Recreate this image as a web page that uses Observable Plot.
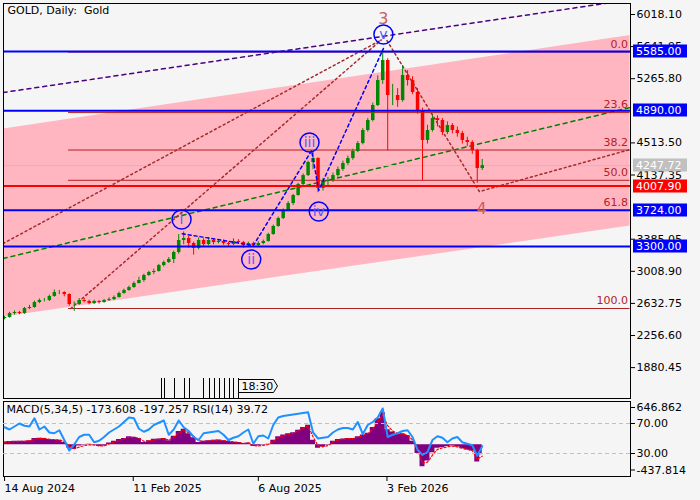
<!DOCTYPE html>
<html><head><meta charset="utf-8">
<script src="https://cdn.jsdelivr.net/npm/d3@7"></script>
<script src="https://cdn.jsdelivr.net/npm/@observablehq/plot@0.6"></script>
<style>
html,body{margin:0;padding:0;background:#f5f5f5;}
#wrap{position:relative;width:700px;height:500px;background:#f5f5f5;overflow:hidden;}
#wrap svg{position:absolute;left:0;}
</style></head><body><div id="wrap"></div>
<script>
// ---------- data ----------
const firstOpen = 2455;
const closes = [2468,2514,2526,2514,2573,2585,2643,2667,2667,2714,
2760,2760,2737,2620,2620,2667,2655,2631,2655,2643,
2667,2678,2702,2749,2784,2819,2866,2901,2960,2995,
3007,3077,3112,3147,3229,3370,3393,3335,3276,3370,
3323,3370,3346,3358,3335,3323,3358,3346,3311,3335,
3311,3335,3358,3440,3534,3628,3721,3803,3897,4026,
4131,4284,4331,3979,4061,4073,4131,4202,4272,4331,
4413,4506,4659,4776,4952,5245,5479,5069,5069,5010,
5303,5245,5104,4893,4542,4659,4799,4776,4635,4717,
4659,4624,4542,4518,4424,4213,4248];
const highs = [2480,2530,2545,2540,2585,2610,2660,2685,2690,2730,
2790,2785,2770,2745,2650,2690,2690,2670,2670,2665,
2680,2700,2720,2765,2800,2835,2885,2940,2975,3010,
3035,3090,3130,3170,3245,3440,3470,3420,3350,3400,
3390,3400,3390,3380,3375,3350,3390,3380,3360,3350,
3350,3355,3375,3455,3550,3645,3740,3825,3910,4040,
4150,4300,4400,4340,4100,4110,4160,4230,4300,4360,
4440,4530,4680,4800,4980,5300,5600,5500,5200,5150,
5420,5360,5290,5150,4920,4720,4840,4830,4800,4760,
4740,4700,4650,4580,4540,4440,4320];
const lows = [2440,2460,2495,2500,2505,2560,2575,2630,2650,2655,
2705,2735,2710,2600,2540,2610,2640,2615,2620,2625,
2635,2655,2665,2695,2740,2775,2810,2860,2880,2950,
2970,3000,3060,3100,3100,3210,3320,3280,3200,3260,
3300,3310,3320,3330,3315,3300,3310,3325,3280,3295,
3290,3300,3320,3350,3430,3525,3615,3710,3780,3890,
4010,4120,4200,3930,3950,4000,4050,4110,4180,4250,
4310,4400,4490,4640,4760,4940,5200,4420,4950,4930,
4990,5180,5080,4850,4073,4500,4640,4700,4600,4610,
4620,4580,4500,4470,4380,4040,4190];
const rsiValues = [65,62,66,70,67,66,77,62,66,58,
57,61,48,34,42,52,55,55,45,47,
52,58,62,66,72,78,77,63,59,62,
68,71,74,55,62,74,65,60,52,48,
57,58,59,60,55,48,51,53,58,62,
43,53,54,50,68,78,80,81,82,83,
84,85,58,50,51,52,58,62,64,64,
62,72,56,68,72,78,90,52,55,57,
60,61,52,35,28,32,48,53,51,45,
50,52,45,43,41,27,39.72];
const macdHist = [50,55,60,60,62,70,110,115,110,90,
85,80,40,-60,-80,-20,-10,10,-10,-30,
-20,30,60,90,110,140,130,110,40,70,
95,100,110,70,150,230,270,190,120,40,
60,70,80,85,70,60,45,40,20,30,
-30,-20,-10,10,80,140,170,190,210,250,
300,340,80,-60,-40,-10,60,90,100,110,
110,140,170,200,300,450,560,260,220,180,
190,160,60,-150,-380,-280,-140,-60,-50,-30,
-20,-40,-70,-90,-110,-300,-173.608];
const macdSignal = [45,50,55,58,60,65,95,110,110,95,
88,82,55,-20,-70,-40,-15,0,-5,-20,
-20,15,45,75,100,125,130,115,60,65,
85,95,105,80,130,200,250,210,150,70,
60,65,75,80,72,63,50,42,25,28,
-15,-20,-12,5,60,120,155,180,200,240,
285,325,140,-20,-35,-15,45,80,95,105,
108,130,160,190,270,400,520,330,240,195,
185,165,85,-90,-320,-300,-180,-80,-55,-35,
-25,-35,-60,-80,-100,-250,-197.257];

// right-axis tick labels that the reference shows (partly hidden ones included)
const priceTicks = [1880.45,2256.60,2632.75,3008.90,3385.05,4137.35,4513.50,5265.80,5641.95,6018.10];
const dateTicks = ["2024-08-14","2025-02-11","2025-08-06","2026-02-03"];
const macdTicks = [646.862,-437.814];
const rsiTicks = [70,30];

const levelValues = [5585.00,4890.00,4007.90,3724.00,3300.00];
const levelKinds = ["blue","blue","red","blue","blue"];
const currentPrice = 4247.72;

const fibRatios = [0,23.6,38.2,50.0,61.8,100.0];
const fibHigh = 5578, fibLow = 2573;
const fibStart = "2024-11-12", fibEnd = "2027-01-11";

const channelDates = ["2024-08-12","2027-01-11"];
const channelUpper = [4675,5771];
const channelLower = [2472,3539];

const purpleDates = ["2024-08-12","2027-01-11"], purplePrices = [5104,6191];
const greenDates = ["2024-08-12","2027-01-11"], greenPrices = [3159,4928];
const brownA_dates = ["2024-08-12","2026-01-26"], brownA_prices = [3335,5720];
const brownB_dates = ["2024-11-15","2026-01-26"], brownB_prices = [2573,5720];
const brownC_dates = ["2026-02-03","2026-06-13","2027-01-11"], brownC_prices = [5713,3944,4436];

const waveDates = ["2025-04-21","2025-07-30","2025-10-20","2025-10-30","2026-01-29"];
const wavePrices = [3450,3311,4424,3956,5620];
const waveNames = ["i","ii","iii","iv","v"];
const waveLabelDates = ["2025-04-20","2025-07-27","2025-10-17","2025-10-30","2026-01-29"];
const waveLabelPrices = [3616,3147,4518,3710,5784];
const bigWaveNames = ["3","4"];
const bigWaveDates = ["2026-01-29","2026-06-16"];
const bigWavePrices = [5971,3745];

const eventDates = ["2025-03-23","2025-03-27","2025-04-10","2025-04-24","2025-05-01","2025-05-21","2025-05-29","2025-06-05","2025-06-12","2025-06-19","2025-06-26","2025-07-02","2025-07-09"];
const eventLabel = "18:30";

const titleText = "GOLD, Daily:\u00a0 Gold";
const macdText = "MACD(5,34,5) -173.608 -197.257 RSI(14) 39.72";

// ---------- build ----------
const D = s => new Date(s + "T00:00:00Z");
const firstBar = Date.UTC(2024,7,14);
const barDates = closes.map((_, i) => new Date(firstBar + i * 7 * 864e5));
const candles = closes.map((c, i) => ({date: barDates[i], open: i === 0 ? firstOpen : closes[i-1], close: c, high: highs[i], low: lows[i]}));
const indic = closes.map((_, i) => ({date: barDates[i], hist: macdHist[i], signal: macdSignal[i], rsi: rsiValues[i]}));
const channel = channelDates.map((d, i) => ({date: D(d), upper: channelUpper[i], lower: channelLower[i]}));
const mkLine = (ds, ps) => ds.map((d, i) => ({date: D(d), price: ps[i]}));
const fib = fibRatios.map(r => ({label: r.toFixed(1), price: fibHigh - (fibHigh - fibLow) * r / 100, start: D(fibStart), end: D(fibEnd)}));
const levelColor = {blue: "#0000ff", red: "#ff0000"};
const levels = levelValues.map((v, i) => ({value: v, color: levelColor[levelKinds[i]]}));
const waves = mkLine(waveDates, wavePrices);
const waveLabels = waveLabelDates.map((d, i) => ({date: D(d), price: waveLabelPrices[i], name: waveNames[i]}));
const bigLabels = bigWaveDates.map((d, i) => ({date: D(d), price: bigWavePrices[i], name: bigWaveNames[i]}));

const xDomain = [new Date(Date.UTC(2024,7,12,12)), new Date(Date.UTC(2027,0,11,14,24))];
const FONT = "DejaVu Sans";
const baseStyle = {background: "transparent", fontFamily: FONT, fontSize: "11px", color: "black", overflow: "visible"};
const brown = "#a52a2a";

const main = Plot.plot({
  width: 700, height: 400, marginLeft: 3, marginRight: 70, marginTop: 3, marginBottom: 2,
  x: {type: "utc", domain: xDomain, axis: null},
  y: {domain: [1518.5, 6147.0], axis: null},
  style: baseStyle,
  marks: [
    Plot.areaY(channel, {x: "date", y1: "lower", y2: "upper", fill: "#ffb6c1", clip: true}),
    Plot.line(mkLine(greenDates, greenPrices), {x: "date", y: "price", stroke: "#008000", strokeDasharray: "4,4", clip: true}),
    Plot.line(mkLine(purpleDates, purplePrices), {x: "date", y: "price", stroke: "#4b0082", strokeWidth: 1.5, strokeDasharray: "4,4", clip: true}),
    Plot.ruleY([currentPrice], {stroke: "#c0c0c0"}),
    Plot.ruleY(fib, {y: "price", x1: "start", x2: "end", stroke: "#b22222"}),
    Plot.text(fib, {x: "end", y: "price", text: "label", textAnchor: "end", dx: -2, dy: -8, fill: "#b22222", fontSize: 11}),
    Plot.line(mkLine(brownA_dates, brownA_prices), {x: "date", y: "price", stroke: brown, strokeDasharray: "2,3", clip: true}),
    Plot.line(mkLine(brownB_dates, brownB_prices), {x: "date", y: "price", stroke: brown, strokeDasharray: "2,3", clip: true}),
    Plot.line(mkLine(brownC_dates, brownC_prices), {x: "date", y: "price", stroke: brown, strokeDasharray: "2,3", clip: true}),
    Plot.ruleX(candles, {x: "date", y1: "low", y2: "high", stroke: d => d.close >= d.open ? "#008800" : "#ff0000"}),
    Plot.ruleX(candles, {x: "date", y1: "open", y2: "close", strokeWidth: 3.5, stroke: d => d.close >= d.open ? "#008800" : "#ff0000"}),
    Plot.ruleY(levels, {y: "value", stroke: "color", strokeWidth: 2}),
    Plot.line(waves, {x: "date", y: "price", stroke: "#0000ff", strokeDasharray: "3,3"}),
    Plot.dot(waveLabels, {x: "date", y: "price", r: 9.5, stroke: "#0000ff", fill: "none"}),
    Plot.text(waveLabels, {x: "date", y: "price", text: "name", fill: "#5a5aff", fontSize: 14}),
    Plot.text(bigLabels, {x: "date", y: "price", text: "name", fill: "#cd5c5c", fontSize: 16}),
    Plot.frame({stroke: "black"}),
    Plot.axisY({anchor: "right", ticks: priceTicks, tickFormat: d => d.toFixed(2), tickSize: 4, tickPadding: 2, label: null}),
    Plot.text([titleText], {text: d => d, frameAnchor: "top-left", dx: 4, dy: 3, textAnchor: "start", lineAnchor: "top", fontSize: 11})
  ]
});
main.style.top = "0px";

// right-axis price tags and event markers, positioned through Plot's scales
{
  const ys = main.scale("y"), xs = main.scale("x");
  const svg = d3.select(main);
  const g = svg.append("g").attr("font-family", FONT).attr("font-size", 11).attr("text-anchor", "start");
  const tags = [{value: currentPrice, color: "#c0c0c0"}].concat(levels);
  const x0 = 700 - 70 + 3;
  for (const t of tags) {
    const y = ys.apply(t.value);
    g.append("rect").attr("x", x0).attr("y", Math.round(y) - 6.5).attr("width", 54).attr("height", 13).attr("fill", t.color);
    g.append("text").attr("x", x0 + 3).attr("y", Math.round(y)).attr("dy", "0.36em").attr("fill", "white").text(t.value.toFixed(2));
  }
  const yb = 400 - 2;
  for (const d of eventDates) {
    const x = Math.round(xs.apply(D(d))) + 0.5;
    g.append("line").attr("x1", x).attr("x2", x).attr("y1", yb - 20).attr("y2", yb).attr("stroke", "black");
  }
  const xl = Math.round(xs.apply(D(eventDates[eventDates.length - 1]))) + 0.5;
  const yt = yb - 18.5;
  g.append("path").attr("d", `M${xl},${yt}H${xl + 35}L${xl + 39},${yt + 6.5}L${xl + 35},${yt + 13}H${xl}Z`).attr("fill", "#f5f5f5").attr("stroke", "black");
  g.append("text").attr("x", xl + 3).attr("y", yt + 6.5).attr("dy", "0.36em").attr("fill", "black").text(eventLabel);
}

const macdPlot = Plot.plot({
  width: 700, height: 100, marginLeft: 3, marginRight: 70, marginTop: 1, marginBottom: 24,
  x: {type: "utc", domain: xDomain},
  y: {domain: [-550.6, 751.0]},
  style: baseStyle,
  marks: [
    Plot.areaY(indic, {x: "date", y: "hist", fill: "#800080", curve: "step", clip: true}),
    Plot.line(indic, {x: "date", y: "signal", stroke: "#ff0000", strokeWidth: 1.2, strokeDasharray: "2,2", clip: true}),
    Plot.frame({stroke: "black"}),
    Plot.axisY({anchor: "right", ticks: macdTicks, tickFormat: d => d.toFixed(3), tickSize: 4, tickPadding: 2, label: null}),
    Plot.axisX({anchor: "bottom", ticks: dateTicks.map(D), tickFormat: d3.utcFormat("%-d %b %Y"), textAnchor: "start", tickSize: 5, tickPadding: 3, label: null})
  ]
});
macdPlot.style.top = "400px";

const rsiPlot = Plot.plot({
  width: 700, height: 100, marginLeft: 3, marginRight: 70, marginTop: 1, marginBottom: 24,
  x: {type: "utc", domain: xDomain, axis: null},
  y: {domain: [-0.67, 99.33]},
  style: baseStyle,
  marks: [
    Plot.ruleY(rsiTicks, {stroke: "#c0c0c0", strokeDasharray: "4,3"}),
    Plot.line(indic, {x: "date", y: "rsi", stroke: "#1e90ff", strokeWidth: 2, clip: true}),
    Plot.axisY({anchor: "right", ticks: rsiTicks, tickFormat: d => d.toFixed(2), tickSize: 4, tickPadding: 2, label: null}),
    Plot.text([macdText], {text: d => d, frameAnchor: "top-left", dx: 3, dy: 4, textAnchor: "start", lineAnchor: "top", fontSize: 11})
  ]
});
rsiPlot.style.top = "400px";

const wrap = document.getElementById("wrap");
wrap.appendChild(main);
wrap.appendChild(macdPlot);
wrap.appendChild(rsiPlot);
</script></body></html>
